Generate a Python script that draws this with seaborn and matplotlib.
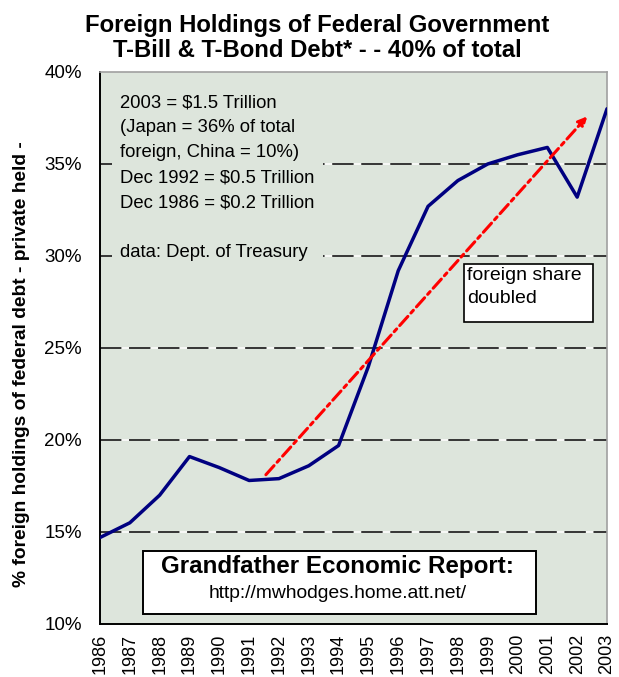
import numpy as np
import pandas as pd
import seaborn as sns
import matplotlib.pyplot as plt

years = list(range(1986, 2004))
share = [14.7, 15.5, 17.0, 19.1, 18.5, 17.8, 17.9, 18.6, 19.7, 24.0,
         29.2, 32.7, 34.1, 35.0, 35.5, 35.9, 33.2, 38.0]
trend_start = (1991.5, 18.0)
trend_end = (2002.4, 37.7)
y_ticks = [10, 15, 20, 25, 30, 35, 40]
notes = ["2003 = $1.5 Trillion", "(Japan = 36% of total",
         "foreign, China = 10%)", "Dec 1992 = $0.5 Trillion",
         "Dec 1986 = $0.2 Trillion", "", "data: Dept. of Treasury"]

df = pd.DataFrame({"year": years, "share": share})

sns.set_style("white")
plt.rcParams['font.family'] = ['Liberation Sans', 'DejaVu Sans']
plt.rcParams.update({'text.color': 'black', 'axes.labelcolor': 'black',
                     'xtick.color': 'black', 'ytick.color': 'black'})

bg = '#dde5dc'
fig = plt.figure(figsize=(6.19, 6.77), dpi=100)
ax = fig.add_axes([100 / 619, 1 - 624 / 677, 507 / 619, 552 / 677])
ax.set_facecolor(bg)

# dashed grid: black dashes over white gaps
for t in y_ticks[1:-1]:
    ax.axhline(t, color='white', lw=1.1, zorder=1)
    ax.axhline(t, color='black', lw=1.1, dashes=(14, 5), zorder=1.5)

sns.lineplot(data=df, x='year', y='share', color='#000080', lw=2.5, ax=ax, zorder=3)

ax.annotate('', xy=trend_end, xytext=trend_start,
            arrowprops=dict(arrowstyle='-|>', color='#ff0000', lw=2.2,
                            linestyle=(0, (4, 1.5, 1.2, 1.5)), mutation_scale=13),
            zorder=4)

ax.set_xlim(1986, 2003)
ax.set_ylim(10, 40)
ax.set_xticks(years)
ax.set_xticklabels([str(y) for y in years], rotation=90, fontsize=13)
ax.set_yticks(y_ticks)
ax.set_yticklabels([f"{t}%" for t in y_ticks], fontsize=13.5)
ax.tick_params(axis='both', direction='inout', length=10, width=1.2, color='black')
ax.tick_params(axis='x', pad=2)
ax.tick_params(axis='y', pad=8)
ax.set_xlabel('')
ax.set_ylabel('% foreign holdings of federal debt - private held -',
              fontsize=13.8, fontweight='bold')
ax.yaxis.set_label_coords(-0.138, 0.47)

for side in ['top', 'right']:
    ax.spines[side].set_color('#a0a0a0')
    ax.spines[side].set_linewidth(1.2)
for side in ['left', 'bottom']:
    ax.spines[side].set_color('black')
    ax.spines[side].set_linewidth(1.4)

fig.text(0.512, 0.979, "Foreign Holdings of Federal Government\nT-Bill & T-Bond Debt* - - 40% of total",
         ha='center', va='top', fontsize=17.2, fontweight='bold', linespacing=1.12)

ax.text(0.04, 0.96, "\n".join(notes), transform=ax.transAxes, ha='left', va='top',
        fontsize=13.3, linespacing=1.62,
        bbox=dict(boxstyle='square,pad=0.45', fc=bg, ec='none'), zorder=2)

fs_box = plt.Rectangle((0.718, 0.548), 0.254, 0.104, transform=ax.transAxes,
                       fc='white', ec='black', lw=1.2, zorder=5)
ax.add_patch(fs_box)
ax.text(0.724, 0.647, "foreign share\ndoubled", transform=ax.transAxes, ha='left', va='top',
        fontsize=14, linespacing=1.5, zorder=6)

box = plt.Rectangle((0.085, 0.018), 0.775, 0.114, transform=ax.transAxes,
                    fc='white', ec='black', lw=1.4, zorder=5)
ax.add_patch(box)
ax.text(0.469, 0.105, "Grandfather Economic Report:", transform=ax.transAxes,
        ha='center', va='center', fontsize=17.4, fontweight='bold', zorder=6)
ax.text(0.469, 0.056, "http://mwhodges.home.att.net/", transform=ax.transAxes,
        ha='center', va='center', fontsize=13.9, zorder=6)

fig.savefig('out.png', dpi=100)
